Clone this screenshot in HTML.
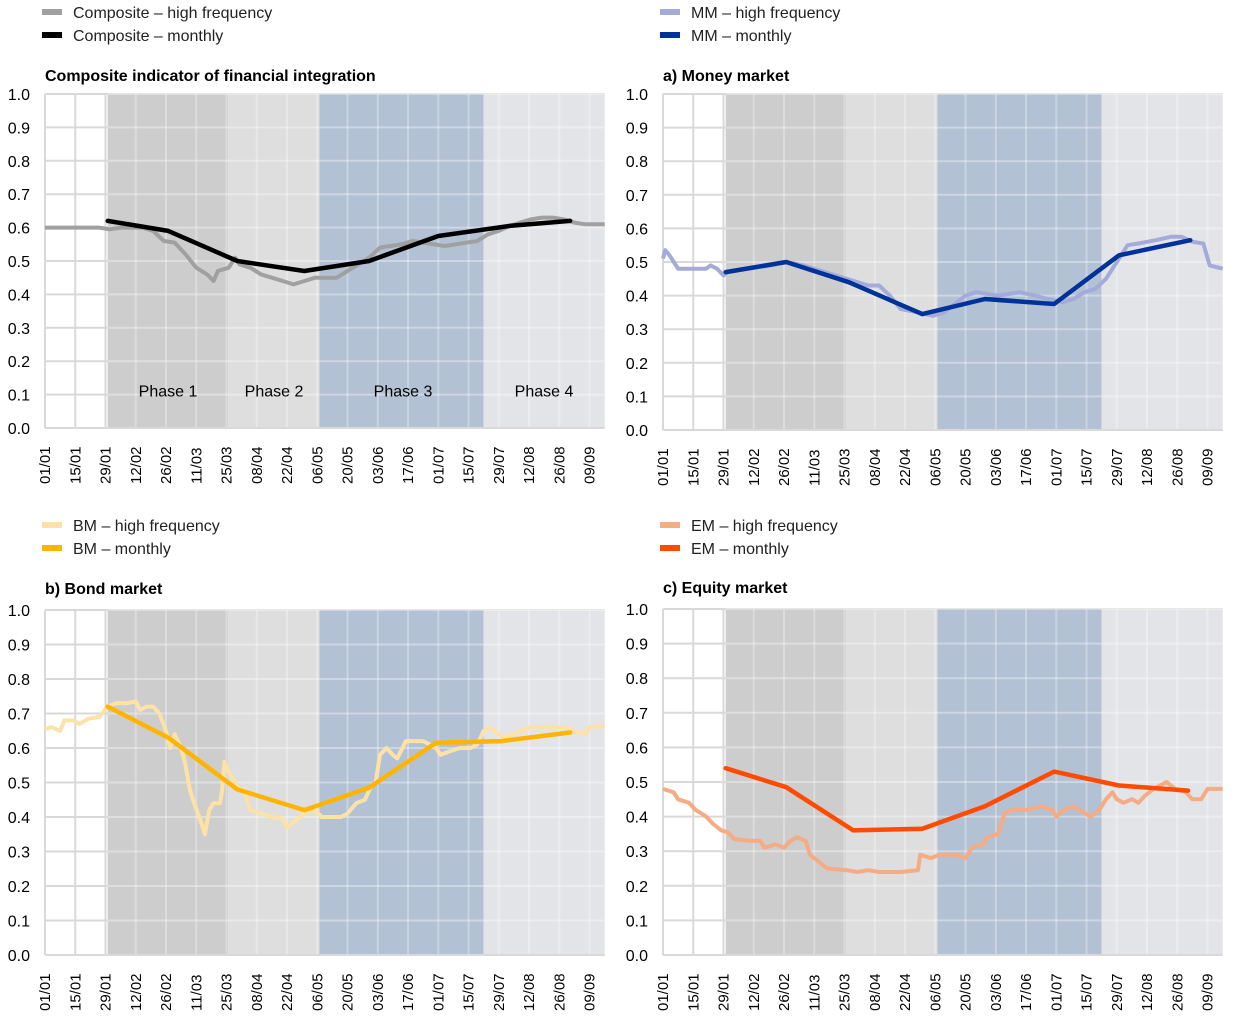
<!DOCTYPE html>
<html><head><meta charset="utf-8"><style>
body{margin:0;background:#fff;font-family:"Liberation Sans",Arial,sans-serif;}
svg{display:block}
</style></head><body>
<svg id="chart" width="1240" height="1016" font-family="Liberation Sans, Arial, sans-serif"></svg>
<script>
const tickLabels=["01/01","15/01","29/01","12/02","26/02","11/03","25/03","08/04","22/04","06/05","20/05","03/06","17/06","01/07","15/07","29/07","12/08","26/08","09/09"];
const yTicks=[0,0.1,0.2,0.3,0.4,0.5,0.6,0.7,0.8,0.9,1.0];
const phaseStarts=[29,84.7,127,203];
const phaseEnds=[84.7,127,203,259];
const phaseNames=["Phase 1","Phase 2","Phase 3","Phase 4"];

const compHfDays=[0,5,10,15,20,25,30,35,40,45,50,55,60,65,70,75,78,80,85,88,90,95,100,105,110,115,120,125,130,135,140,145,150,155,160,165,170,175,180,185,190,195,200,205,210,215,220,225,230,235,240,245,250,255,259];
const compHfVals=[0.60,0.60,0.60,0.60,0.60,0.60,0.595,0.60,0.60,0.60,0.59,0.56,0.555,0.52,0.48,0.46,0.44,0.47,0.48,0.51,0.49,0.48,0.46,0.45,0.44,0.43,0.44,0.45,0.45,0.45,0.47,0.49,0.51,0.54,0.545,0.55,0.56,0.555,0.55,0.545,0.55,0.555,0.56,0.58,0.59,0.605,0.615,0.625,0.63,0.63,0.625,0.615,0.61,0.61,0.61];
const compMDays=[29,57,89,120,150,182,215,243];
const compMVals=[0.62,0.59,0.50,0.47,0.50,0.575,0.605,0.62];

const mmHfDays=[0,1,3,7,20,22,25,28,30,40,50,57,65,75,85,95,100,105,110,118,125,130,140,145,155,165,172,178,185,190,195,200,205,210,215,220,228,235,240,245,250,253,259];
const mmHfVals=[0.51,0.535,0.52,0.48,0.48,0.49,0.48,0.46,0.47,0.48,0.49,0.50,0.49,0.47,0.45,0.43,0.43,0.40,0.36,0.35,0.34,0.35,0.40,0.41,0.40,0.41,0.40,0.39,0.38,0.39,0.41,0.42,0.45,0.50,0.55,0.555,0.565,0.575,0.575,0.56,0.555,0.49,0.48];
const mmMDays=[29,57,86,120,149,181,211,244];
const mmMVals=[0.47,0.50,0.44,0.345,0.39,0.375,0.52,0.565];

const bmHfDays=[0,3,7,9,13,16,20,25,29,33,38,42,44,47,50,53,56,58,60,63,65,67,69,72,74,76,78,81,82,83,85,88,90,92,95,100,105,110,112,116,120,125,128,133,137,140,144,148,151,153,155,158,161,163,167,172,175,178,181,183,187,192,197,200,203,206,210,213,216,220,225,230,235,240,245,250,252,259];
const bmHfVals=[0.655,0.66,0.65,0.68,0.68,0.67,0.685,0.69,0.72,0.73,0.73,0.735,0.71,0.72,0.72,0.70,0.65,0.60,0.64,0.60,0.55,0.48,0.44,0.39,0.35,0.42,0.44,0.44,0.48,0.56,0.53,0.50,0.48,0.48,0.42,0.41,0.40,0.395,0.37,0.39,0.41,0.42,0.40,0.40,0.40,0.41,0.44,0.45,0.49,0.50,0.58,0.60,0.58,0.57,0.62,0.62,0.62,0.61,0.60,0.58,0.59,0.60,0.60,0.61,0.65,0.66,0.64,0.63,0.64,0.65,0.66,0.66,0.66,0.66,0.65,0.64,0.66,0.665];
const bmMDays=[29,57,89,120,150,181,211,243];
const bmMVals=[0.72,0.63,0.48,0.42,0.485,0.615,0.62,0.645];

const emHfDays=[0,5,7,12,15,20,23,27,30,33,40,45,47,52,56,59,62,66,68,72,76,85,90,95,100,110,118,119,124,128,136,140,143,148,150,155,158,162,170,175,180,182,186,190,195,198,202,205,208,210,213,217,220,223,227,230,233,237,242,245,249,252,259];
const emHfVals=[0.48,0.47,0.45,0.44,0.42,0.40,0.38,0.36,0.355,0.335,0.33,0.33,0.31,0.32,0.31,0.33,0.34,0.33,0.29,0.27,0.25,0.245,0.24,0.245,0.24,0.24,0.245,0.29,0.28,0.29,0.29,0.28,0.31,0.32,0.34,0.35,0.41,0.42,0.42,0.43,0.42,0.40,0.42,0.43,0.41,0.40,0.42,0.45,0.47,0.45,0.44,0.45,0.44,0.46,0.48,0.49,0.50,0.48,0.47,0.45,0.45,0.48,0.48];
const emMDays=[29,57,88,120,149,181,211,243];
const emMVals=[0.54,0.485,0.36,0.365,0.43,0.53,0.49,0.475];

const svg=document.getElementById('chart');
const NS='http://www.w3.org/2000/svg';
function mk(tag,attrs,parent){const e=document.createElementNS(NS,tag);for(const k in attrs)e.setAttribute(k,attrs[k]);(parent||svg).appendChild(e);return e;}
const shadeColors=["#cdcdcd","#dedede","#b3c1d4","#e3e4e8"];

function panel(p){
  const g=mk('g',{});
  
  
  const dayPx=2.161;
  const xs=d=>p.x0+d*dayPx;
  const ys=v=>p.yb-(p.yb-p.yt)*v;
  const xr=xs(259);
  // legend
  [[p.hfColor,p.hfLabel,'legend-high-frequency'],[p.mColor,p.mLabel,'legend-monthly']].forEach((l,i)=>{
    const lg=mk('g',{},g);
    
    
    mk('rect',{x:p.x0-3,y:p.legY+i*23-3,width:20,height:6,fill:l[0]},lg);
    const t=mk('text',{x:p.x0+28,y:p.legY+i*23+6,'font-size':16,fill:'#222'},lg);t.textContent=l[1];
  });
  const title=mk('text',{x:p.x0,y:p.titleY,'font-size':16,'font-weight':'bold',fill:'#000'},g);
  title.textContent=p.title;
  
  
  // white gridlines base
  yTicks.forEach(v=>{mk('line',{x1:p.x0,x2:xr,y1:ys(v),y2:ys(v),stroke:'#d9d9d9','stroke-width':2},g);});
  tickLabels.forEach((t,i)=>{mk('line',{x1:xs(i*14),x2:xs(i*14),y1:p.yt,y2:p.yb,stroke:'#d9d9d9','stroke-width':2},g);});
  phaseStarts.forEach((s,i)=>{
    const r=mk('rect',{x:xs(s),y:p.yt,width:xs(phaseEnds[i])-xs(s),height:p.yb-p.yt,fill:shadeColors[i]},g);
    
    
  });
  yTicks.forEach(v=>{mk('line',{x1:xs(phaseStarts[0]),x2:xr,y1:ys(v),y2:ys(v),stroke:'#ffffff','stroke-opacity':0.35,'stroke-width':2},g);});
  tickLabels.forEach((t,i)=>{if(i*14>phaseStarts[0])mk('line',{x1:xs(i*14),x2:xs(i*14),y1:p.yt,y2:p.yb,stroke:'#ffffff','stroke-opacity':0.3,'stroke-width':2},g);});
  mk('line',{x1:p.x0,x2:xr,y1:p.yb,y2:p.yb,stroke:'#d9d9d9','stroke-width':2},g);
  if(p.phaseLabels){phaseNames.forEach((n,i)=>{
    const cx=[168,274,403,544][i];
    const t=mk('text',{x:cx,y:ys(0.1)+2,'font-size':16,'text-anchor':'middle',fill:'#000'},g);t.textContent=n;
    
    
  });}
  // y labels
  yTicks.forEach(v=>{const t=mk('text',{x:p.x0-15,y:ys(v)+6,'font-size':16,'text-anchor':'end',fill:'#000'},g);t.textContent=v.toFixed(1);});
  // x labels
  tickLabels.forEach((l,i)=>{const x=xs(i*14)+5;const y=p.yb+56;const t=mk('text',{x:x,y:y,'font-size':15,transform:`rotate(-90 ${x} ${y})`,fill:'#000'},g);t.textContent=l;});
  // series
  const hf=mk('polyline',{points:p.hfDays.map((d,i)=>xs(d).toFixed(1)+','+ys(p.hfVals[i]).toFixed(1)).join(' '),fill:'none',stroke:p.hfColor,'stroke-width':4,'stroke-linejoin':'round'},g);
  
  
  const m=mk('polyline',{points:p.mDays.map((d,i)=>xs(d).toFixed(1)+','+ys(p.mVals[i]).toFixed(1)).join(' '),fill:'none',stroke:p.mColor,'stroke-width':4.5,'stroke-linejoin':'round','stroke-linecap':'round'},g);
  
  
}
panel({name:'composite-panel',x0:45,yt:94,yb:428,legY:12,titleY:81,title:'Composite indicator of financial integration',hfLabel:'Composite – high frequency',mLabel:'Composite – monthly',hfColor:'#a0a0a0',mColor:'#000000',hfDays:compHfDays,hfVals:compHfVals,mDays:compMDays,mVals:compMVals,phaseLabels:true});
panel({name:'money-market-panel',x0:663,yt:94,yb:430,legY:12,titleY:81,title:'a) Money market',hfLabel:'MM – high frequency',mLabel:'MM – monthly',hfColor:'#a4abd8',mColor:'#003299',hfDays:mmHfDays,hfVals:mmHfVals,mDays:mmMDays,mVals:mmMVals});
panel({name:'bond-market-panel',x0:45,yt:610,yb:955,legY:525,titleY:594,title:'b) Bond market',hfLabel:'BM – high frequency',mLabel:'BM – monthly',hfColor:'#fde2a8',mColor:'#ffb400',hfDays:bmHfDays,hfVals:bmHfVals,mDays:bmMDays,mVals:bmMVals});
panel({name:'equity-market-panel',x0:663,yt:609,yb:955,legY:525,titleY:593,title:'c) Equity market',hfLabel:'EM – high frequency',mLabel:'EM – monthly',hfColor:'#f5ab83',mColor:'#ff4b00',hfDays:emHfDays,hfVals:emHfVals,mDays:emMDays,mVals:emMVals});
</script>
</body></html>
